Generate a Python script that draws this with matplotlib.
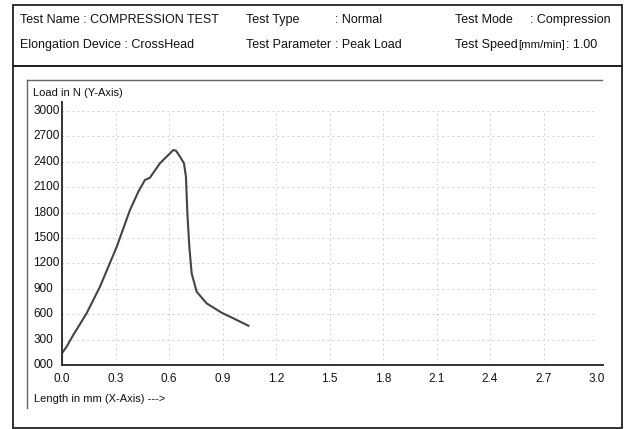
import matplotlib
matplotlib.use("Agg")
import matplotlib.pyplot as plt
from matplotlib.lines import Line2D
from matplotlib.patches import Rectangle

# ---- data ----
length_mm = [0.0, 0.0, 0.026, 0.063, 0.138, 0.213, 0.307, 0.381, 0.428, 0.465,
             0.493, 0.549, 0.596, 0.624, 0.639, 0.662, 0.684, 0.695, 0.703,
             0.714, 0.727, 0.755, 0.811, 0.895, 0.961, 1.045]
load_n = [0, 140, 216, 354, 610, 925, 1397, 1830, 2047, 2185,
          2212, 2382, 2480, 2539, 2531, 2460, 2382, 2224, 1791,
          1397, 1083, 866, 728, 618, 551, 464]
x_ticks = [0.0, 0.3, 0.6, 0.9, 1.2, 1.5, 1.8, 2.1, 2.4, 2.7, 3.0]
x_tick_labels = ["0.0", "0.3", "0.6", "0.9", "1.2", "1.5", "1.8", "2.1", "2.4", "2.7", "3.0"]
y_ticks = [0, 300, 600, 900, 1200, 1500, 1800, 2100, 2400, 2700, 3000]
y_tick_labels = ["000", "300", "600", "900", "1200", "1500", "1800", "2100", "2400", "2700", "3000"]
header_row1 = [("Test Name : COMPRESSION TEST", 20), ("Test Type", 246), (": Normal", 335),
               ("Test Mode", 455), (": Compression", 530)]
header_row2 = [("Elongation Device : CrossHead", 20), ("Test Parameter", 246), (": Peak Load", 335),
               ("Test Speed", 455)]
speed_unit = "[mm/min]"
speed_value = ": 1.00"

FONT = ["Liberation Sans", "DejaVu Sans"]
plt.rcParams['font.family'] = FONT

W, H = 630, 429
fig = plt.figure(figsize=(W / 100, H / 100), dpi=100)
fig.patch.set_facecolor("white")

def fx(px):
    return px / W

def fy(py):
    return 1 - py / H

# outer frames
fig.add_artist(Rectangle((fx(13), fy(428)), fx(622) - fx(13), fy(66) - fy(428),
                         transform=fig.transFigure, fill=False, lw=1.3, ec="#222222"))
fig.add_artist(Rectangle((fx(13), fy(66)), fx(622) - fx(13), fy(5) - fy(66),
                         transform=fig.transFigure, fill=False, lw=1.3, ec="#222222"))
# inner panel (left & top edges)
fig.add_artist(Line2D([fx(27), fx(27)], [fy(80), fy(408)], transform=fig.transFigure,
                      color="#666666", lw=1.0))
fig.add_artist(Line2D([fx(27), fx(602)], [fy(80), fy(80)], transform=fig.transFigure,
                      color="#666666", lw=1.0))

HFS = 9.0
for txt, px in header_row1:
    fig.text(fx(px), fy(20), txt, fontsize=HFS, va="center", ha="left", color="#111111")
for txt, px in header_row2:
    fig.text(fx(px), fy(45), txt, fontsize=HFS, va="center", ha="left", color="#111111")
fig.text(fx(518), fy(45), speed_unit, fontsize=8.2, va="center", ha="left", color="#111111")
fig.text(fx(566), fy(45), speed_value, fontsize=HFS, va="center", ha="left", color="#111111")

# axes
ax = fig.add_axes([fx(62), fy(365), fx(597) - fx(62), fy(111) - fy(365)])
ax.set_xlim(0, 3.0)
ax.set_ylim(0, 3000)
ax.plot(length_mm, load_n, color="#444444", lw=1.5)
ax.set_xticks(x_ticks)
ax.set_xticklabels(x_tick_labels)
ax.set_yticks(y_ticks)
ax.set_yticklabels([])
ax.tick_params(length=0, labelsize=8.5, colors="#111111", pad=6)
ax.grid(True, color="#c4c4c4", lw=0.6, ls=(0, (2, 4)))
for s in ["top", "right", "left", "bottom"]:
    ax.spines[s].set_visible(False)
ax.add_line(Line2D([0, 1.012], [0, 0], transform=ax.transAxes, clip_on=False, color="#333333", lw=1.4))
ax.add_line(Line2D([0, 0], [0, 1.035], transform=ax.transAxes, clip_on=False, color="#333333", lw=1.4))
ax.set_facecolor("none")

for v, lab in zip(y_ticks, y_tick_labels):
    ax.text(-0.054, v, lab, transform=ax.get_yaxis_transform(), fontsize=8.5,
            ha="left", va="center", color="#111111")

fig.text(fx(33), fy(93), "Load in N (Y-Axis)", fontsize=8, ha="left", va="center", color="#111111")
fig.text(fx(34), fy(399), "Length in mm (X-Axis) --->", fontsize=8, ha="left", va="center", color="#111111")

fig.savefig("out.png", dpi=100, facecolor="white")
